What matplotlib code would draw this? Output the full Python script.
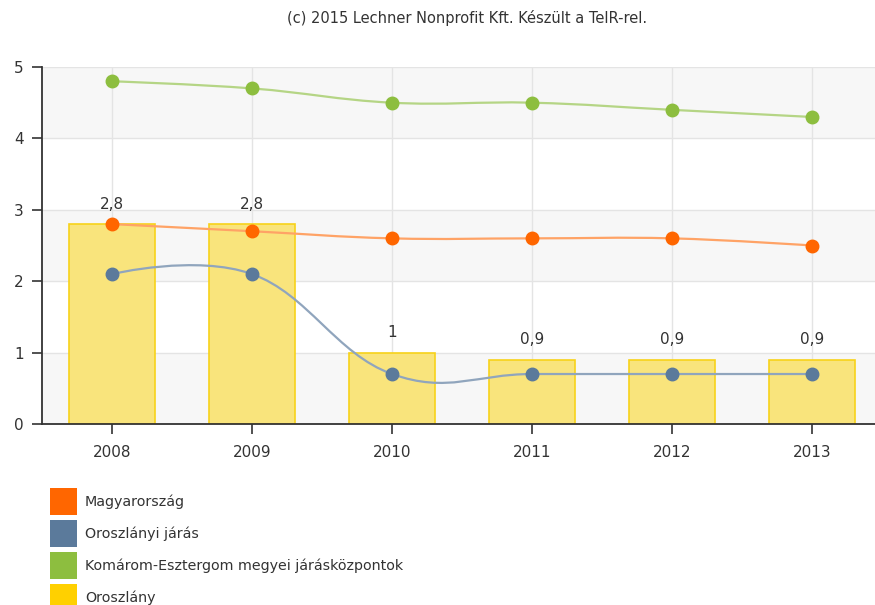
import numpy as np
import matplotlib
matplotlib.use("Agg")
import matplotlib.pyplot as plt
from matplotlib.path import Path
from matplotlib.patches import PathPatch, Rectangle

years = ["2008", "2009", "2010", "2011", "2012", "2013"]
magyarorszag = [2.8, 2.7, 2.6, 2.6, 2.6, 2.5]
oroszlanyi_jaras = [2.1, 2.1, 0.7, 0.7, 0.7, 0.7]
komarom = [4.8, 4.7, 4.5, 4.5, 4.4, 4.3]
oroszlany = [2.8, 2.8, 1.0, 0.9, 0.9, 0.9]
bar_labels = ["2,8", "2,8", "1", "0,9", "0,9", "0,9"]

series_names = ["Magyarország", "Oroszlányi járás",
                "Komárom-Esztergom megyei járásközpontok", "Oroszlány"]


def spline_path(xs, ys, smoothing=1.5):
    # highcharts-style spline: bezier control points from neighbours
    n = len(xs)
    denom = smoothing + 1
    left = [None] * n
    right = [None] * n
    for i in range(1, n - 1):
        lx = (smoothing * xs[i] + xs[i - 1]) / denom
        ly = (smoothing * ys[i] + ys[i - 1]) / denom
        rx = (smoothing * xs[i] + xs[i + 1]) / denom
        ry = (smoothing * ys[i] + ys[i + 1]) / denom
        corr = ((ry - ly) * (rx - xs[i])) / (rx - lx) + ys[i] - ry
        left[i] = (lx, ly + corr)
        right[i] = (rx, ry + corr)
    verts = [(xs[0], ys[0])]
    codes = [Path.MOVETO]
    for i in range(1, n):
        c1 = right[i - 1] if right[i - 1] else (xs[i - 1], ys[i - 1])
        c2 = left[i] if left[i] else (xs[i], ys[i])
        verts += [c1, c2, (xs[i], ys[i])]
        codes += [Path.CURVE4] * 3
    return Path(verts, codes)


fig = plt.figure(figsize=(8.75, 6.05), dpi=100)
ax = fig.add_axes([42 / 875, 1 - 424 / 605, 1 - 42 / 875, (424 - 67) / 605])

x = np.arange(len(years))

# alternating bands
for lo in [0, 2, 4]:
    ax.axhspan(lo, lo + 1, color="#f7f7f7", zorder=0, lw=0)
ax.grid(True, color="#e4e4e4", lw=1, zorder=0.5)
ax.set_axisbelow(True)

ax.bar(x, oroszlany, width=0.61, color="#f9e47c", edgecolor="#f7d21a",
       lw=1.2, zorder=2)
for xi, v, lab in zip(x, oroszlany, bar_labels):
    ax.annotate(lab, (xi, v), xytext=(0, 9), textcoords="offset points",
                ha="center", va="bottom", fontsize=11, color="#333333", zorder=5)

lines = [
    (magyarorszag, "#ff6600", "#ffa366"),
    (oroszlanyi_jaras, "#5b7a9b", "#90a5bd"),
    (komarom, "#8dbe3f", "#b5d585"),
]
for ys, mc, lc in lines:
    ax.add_patch(PathPatch(spline_path(list(x), ys), fill=False, edgecolor=lc,
                           lw=1.6, zorder=3))
    ax.plot(x, ys, ls="none", marker="o", ms=9, color=mc, zorder=4)

ax.set_xlim(-0.5, 5.45)
ax.set_ylim(0, 5)
ax.set_xticks(x)
ax.set_xticklabels(years)
ax.set_yticks(range(6))
ax.tick_params(axis="both", labelsize=11, colors="#333333", length=7,
               width=1.2, direction="out")
ax.tick_params(axis="x", pad=8)
ax.tick_params(axis="y", pad=6)
for s in ["top", "right"]:
    ax.spines[s].set_visible(False)
for s in ["left", "bottom"]:
    ax.spines[s].set_color("#333333")
    ax.spines[s].set_linewidth(1.3)

fig.text(467 / 875, 1 - 18 / 605,
         "(c) 2015 Lechner Nonprofit Kft. Készült a TeIR-rel.",
         ha="center", va="center", fontsize=10.5, color="#333333")

# legend
leg_colors = ["#ff6600", "#5b7a9b", "#8dbe3f", "#ffd000"]
for i, (name, c) in enumerate(zip(series_names, leg_colors)):
    top = 488 + i * 32
    fig.add_artist(Rectangle((50 / 875, 1 - (top + 27) / 605), 27 / 875, 27 / 605,
                             transform=fig.transFigure, color=c, lw=0))
    fig.text(85 / 875, 1 - (top + 13.5) / 605, name, ha="left", va="center",
             fontsize=10.3, color="#333333")

fig.savefig("out.png", dpi=100)
